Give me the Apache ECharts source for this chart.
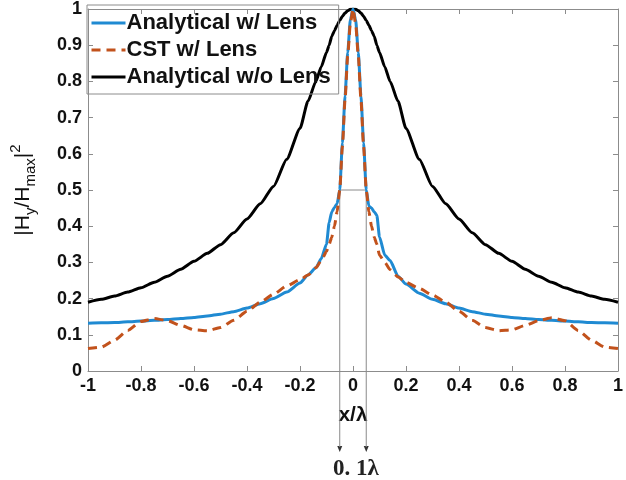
<!DOCTYPE html>
<html>
<head>
<meta charset="utf-8">
<script src="https://cdn.jsdelivr.net/npm/echarts@6/dist/echarts.min.js"></script>
<style>
html, body { margin: 0; padding: 0; background: #fff; }
#main { width: 626px; height: 480px; }
</style>
</head>
<body>
<div id="main"></div>
<script>
// x/lambda positions shared by the three curves
var xs = [-1, -0.95, -0.9, -0.85, -0.8, -0.75, -0.7, -0.65, -0.6, -0.55, -0.5, -0.45, -0.4, -0.35, -0.3, -0.25, -0.2, -0.17, -0.14, -0.12, -0.1, -0.09, -0.08, -0.07, -0.06, -0.05, -0.04, -0.03, -0.02, -0.01, 0,
          0.01, 0.02, 0.03, 0.04, 0.05, 0.06, 0.07, 0.08, 0.09, 0.1, 0.12, 0.14, 0.17, 0.2, 0.25, 0.3, 0.35, 0.4, 0.45, 0.5, 0.55, 0.6, 0.65, 0.7, 0.75, 0.8, 0.85, 0.9, 0.95, 1];

var analyticLens = [0.132, 0.133, 0.134, 0.136, 0.138, 0.14, 0.142, 0.145, 0.148, 0.152, 0.157, 0.164, 0.174, 0.186, 0.2, 0.218, 0.243, 0.265, 0.285, 0.31, 0.35, 0.41, 0.44, 0.452, 0.462, 0.5, 0.63, 0.76, 0.88, 0.97, 1.0,
                    0.97, 0.88, 0.76, 0.63, 0.5, 0.455, 0.45, 0.44, 0.43, 0.37, 0.32, 0.305, 0.262, 0.24, 0.215, 0.198, 0.186, 0.174, 0.164, 0.157, 0.152, 0.148, 0.145, 0.142, 0.14, 0.138, 0.136, 0.134, 0.133, 0.132];

var cstLens = [0.062, 0.066, 0.085, 0.112, 0.137, 0.145, 0.139, 0.126, 0.114, 0.111, 0.12, 0.14, 0.165, 0.19, 0.212, 0.235, 0.252, 0.265, 0.285, 0.305, 0.33, 0.35, 0.37, 0.4, 0.44, 0.5, 0.62, 0.75, 0.87, 0.96, 1.0,
               0.96, 0.87, 0.75, 0.62, 0.5, 0.44, 0.4, 0.37, 0.35, 0.32, 0.3, 0.28, 0.26, 0.245, 0.228, 0.21, 0.19, 0.165, 0.14, 0.12, 0.111, 0.114, 0.126, 0.139, 0.147, 0.139, 0.112, 0.085, 0.066, 0.062];

var analyticNoLens = [0.19, 0.198, 0.207, 0.218, 0.23, 0.245, 0.262, 0.281, 0.303, 0.325, 0.349, 0.382, 0.42, 0.462, 0.51, 0.585, 0.67, 0.745, 0.8, 0.84, 0.88, 0.9, 0.925, 0.94, 0.955, 0.968, 0.98, 0.989, 0.995, 0.999, 1.0,
                      0.999, 0.995, 0.989, 0.98, 0.968, 0.955, 0.94, 0.925, 0.9, 0.88, 0.84, 0.8, 0.745, 0.67, 0.585, 0.51, 0.462, 0.42, 0.382, 0.349, 0.325, 0.303, 0.281, 0.262, 0.245, 0.23, 0.218, 0.207, 0.198, 0.19];

var seriesNames = ['Analytical w/ Lens', 'CST w/ Lens', 'Analytical w/o Lens'];
var xTicks = { min: -1, max: 1, interval: 0.2 };
var yTicks = { min: 0, max: 1, interval: 0.1 };
var fwhmX = [-0.05, 0.05];
var fwhmY = 0.5;

function pairs(ys) {
    var out = [];
    for (var i = 0; i < xs.length; i++) out.push([xs[i], ys[i]]);
    return out;
}

var font = 'Liberation Sans, Arial, sans-serif';
var boxColor = '#8c8c8c';

var chart = echarts.init(document.getElementById('main'));

var baseX = {
    type: 'value', min: xTicks.min, max: xTicks.max, interval: xTicks.interval,
    axisLine: { show: true, onZero: false, lineStyle: { color: boxColor, width: 1 } },
    axisTick: { show: true, inside: true, length: 5, lineStyle: { color: boxColor } },
    splitLine: { show: false }
};
var baseY = {
    type: 'value', min: yTicks.min, max: yTicks.max, interval: yTicks.interval,
    axisLine: { show: true, onZero: false, lineStyle: { color: boxColor, width: 1 } },
    axisTick: { show: true, inside: true, length: 5, lineStyle: { color: boxColor } },
    splitLine: { show: false }
};

var option = {
    animation: false,
    backgroundColor: '#fff',
    grid: { left: 87, right: 5, top: 5, bottom: 109, containLabel: false },
    legend: {
        orient: 'vertical',
        left: 87, top: 5,
        padding: [7, 8, 6, 3],
        itemGap: 5,
        itemWidth: 34,
        itemHeight: 22,
        borderColor: boxColor,
        borderWidth: 1,
        borderRadius: 0,
        backgroundColor: 'transparent',
        itemStyle: { opacity: 0 },
        lineStyle: { width: 3 },
        textStyle: { fontFamily: font, fontSize: 22, fontWeight: 'bold', color: '#111', padding: [0, 0, 0, -4] },
        data: seriesNames
    },
    xAxis: [
        Object.assign({}, baseX, {
            position: 'bottom',
            name: 'x/λ',
            nameLocation: 'middle',
            nameGap: 34,
            nameTextStyle: { fontFamily: font, fontSize: 21, fontWeight: 'bold', color: '#111' },
            axisLabel: {
                fontFamily: font, fontSize: 18, fontWeight: 'bold', color: '#111', margin: 6,
                formatter: function (v) { return String(Math.round(v * 10) / 10); }
            }
        }),
        Object.assign({}, baseX, { position: 'top', axisLabel: { show: false } })
    ],
    yAxis: [
        Object.assign({}, baseY, {
            position: 'left',
            name: '{n||H}{s|y}{n|/H}{s|max}{n||}{p|2}',
            nameLocation: 'middle',
            nameRotate: 90,
            nameGap: 50,
            nameTextStyle: {
                fontFamily: font, color: '#111',
                rich: {
                    n: { fontFamily: font, fontSize: 21, color: '#111', lineHeight: 30, verticalAlign: 'middle' },
                    s: { fontFamily: font, fontSize: 15, color: '#111', lineHeight: 15, verticalAlign: 'bottom' },
                    p: { fontFamily: font, fontSize: 15, color: '#111', lineHeight: 15, verticalAlign: 'top' }
                }
            },
            axisLabel: {
                fontFamily: font, fontSize: 18, fontWeight: 'bold', color: '#111', margin: 6,
                formatter: function (v) { return String(Math.round(v * 10) / 10); }
            }
        }),
        Object.assign({}, baseY, { position: 'right', axisLabel: { show: false } })
    ],
    series: [
        {
            name: seriesNames[0], type: 'line', data: pairs(analyticLens),
            symbol: 'none', smooth: 0.2, smoothMonotone: 'x',
            lineStyle: { color: '#1f8ad2', width: 3 }, itemStyle: { color: '#1f8ad2' }, z: 3
        },
        {
            name: seriesNames[1], type: 'line', data: pairs(cstLens),
            symbol: 'none', smooth: 0.2, smoothMonotone: 'x',
            lineStyle: { color: '#c2521c', width: 3, type: [9, 6] }, itemStyle: { color: '#c2521c' }, z: 4
        },
        {
            name: seriesNames[2], type: 'line', data: pairs(analyticNoLens),
            symbol: 'none', smooth: 0.2, smoothMonotone: 'x',
            lineStyle: { color: '#000', width: 3 }, itemStyle: { color: '#000' }, z: 2
        }
    ]
};
chart.setOption(option);

// FWHM annotation: grey bracket at half maximum with arrows below the axis
var pL = chart.convertToPixel({ gridIndex: 0 }, [fwhmX[0], fwhmY]);
var pR = chart.convertToPixel({ gridIndex: 0 }, [fwhmX[1], fwhmY]);
var arrowTip = 452;
var gray = '#8a8a8a';
var graphics = [
    { type: 'line', shape: { x1: pL[0], y1: pL[1], x2: pR[0], y2: pR[1] }, style: { stroke: gray, lineWidth: 1 }, z: 1 },
    { type: 'line', shape: { x1: pL[0], y1: pL[1], x2: pL[0], y2: arrowTip - 5 }, style: { stroke: gray, lineWidth: 1 }, z: 1 },
    { type: 'line', shape: { x1: pR[0], y1: pR[1], x2: pR[0], y2: arrowTip - 5 }, style: { stroke: gray, lineWidth: 1 }, z: 1 },
    { type: 'polygon', shape: { points: [[pL[0] - 2.5, arrowTip - 6], [pL[0] + 2.5, arrowTip - 6], [pL[0], arrowTip]] }, style: { fill: '#333' } },
    { type: 'polygon', shape: { points: [[pR[0] - 2.5, arrowTip - 6], [pR[0] + 2.5, arrowTip - 6], [pR[0], arrowTip]] }, style: { fill: '#333' } },
    {
        type: 'text', x: (pL[0] + pR[0]) / 2 + 3, y: 469,
        style: { text: '0. 1λ', fontFamily: 'Liberation Serif, DejaVu Serif, serif', fontSize: 23, fontWeight: 'bold', fill: '#222', align: 'center', verticalAlign: 'middle' }
    }
];
chart.setOption({ graphic: graphics });
</script>
</body>
</html>
